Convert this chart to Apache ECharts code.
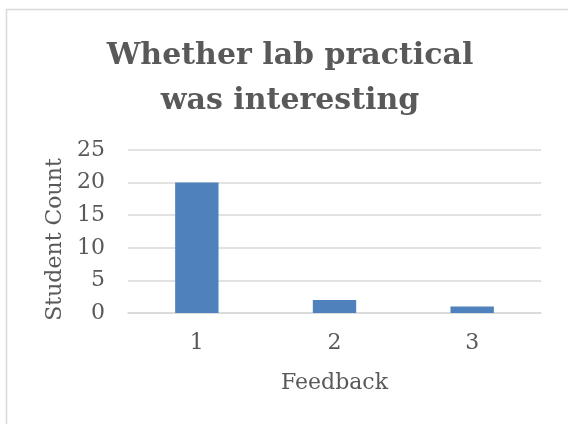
<!DOCTYPE html>
<html>
<head>
<meta charset="utf-8">
<script src="https://cdn.jsdelivr.net/npm/echarts@6/dist/echarts.min.js"></script>
<style>html,body{margin:0;padding:0;background:#fff}#c{width:568px;height:424px}</style>
</head>
<body>
<div id="c"></div>
<script>
const categories = ['1', '2', '3'];
const studentCounts = [20, 2, 1];
const titleText = 'Whether lab practical\nwas interesting';
const xName = 'Feedback';
const yName = 'Student Count';

const chart = echarts.init(document.getElementById('c'), null, {renderer: 'canvas'});
const serif = 'DejaVu Serif';
chart.setOption({
  animation: false,
  backgroundColor: '#fff',
  graphic: [{
    type: 'rect', shape: {x: 6.5, y: 9.5, width: 700, height: 600},
    style: {fill: 'none', stroke: '#d9d9d9', lineWidth: 1.5}, silent: true
  }],
  title: {
    text: titleText, left: 285, top: 29, textAlign: 'center',
    textStyle: {fontFamily: serif, fontWeight: 'bold', fontSize: 30, color: '#595959', lineHeight: 45}
  },
  grid: {left: 128, right: 27, top: 150, bottom: 111, containLabel: false},
  xAxis: {
    type: 'category', data: categories,
    name: xName, nameLocation: 'middle', nameGap: 59,
    nameTextStyle: {fontFamily: serif, fontSize: 22, color: '#595959'},
    axisLine: {lineStyle: {color: '#d9d9d9', width: 1.5}},
    axisTick: {show: false},
    axisLabel: {fontFamily: serif, fontSize: 22, color: '#595959', margin: 19}
  },
  yAxis: {
    type: 'value', min: 0, max: 25, interval: 5,
    name: yName, nameLocation: 'middle', nameGap: 59,
    nameTextStyle: {fontFamily: serif, fontSize: 22, color: '#595959', padding: [0, 16, 0, 0]},
    axisLine: {show: false}, axisTick: {show: false},
    axisLabel: {fontFamily: serif, fontSize: 22, color: '#595959', margin: 23},
    splitLine: {lineStyle: {color: '#d9d9d9', width: 1.5}}
  },
  series: [{
    type: 'bar', data: studentCounts, barWidth: '31.5%',
    itemStyle: {color: '#4f81bd'}
  }]
});
</script>
</body>
</html>
